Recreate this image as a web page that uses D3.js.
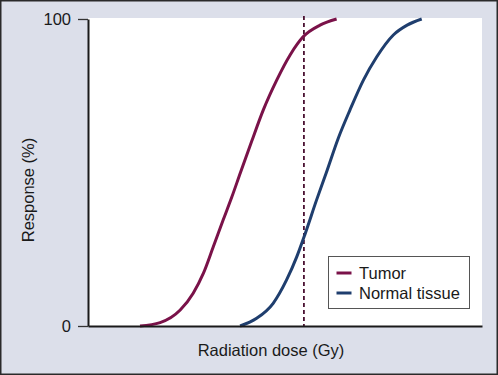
<!DOCTYPE html>
<html>
<head>
<meta charset="utf-8">
<script src="https://cdn.jsdelivr.net/npm/d3@7"></script>
<style>
  body { margin: 0; background: #fff; }
  svg { display: block; font-family: "Liberation Sans", Arial, sans-serif; }
</style>
</head>
<body>
<div id="chart-area"></div>
<script>
// values (dose in arbitrary units, response in %)
const tumorDose = [13.2, 18.3, 23.4, 26.7, 29.3, 31.8, 34.3, 36.5, 38.7, 41.5, 44.5, 47.9, 51.3, 54.6, 58.9, 63.1]
const tumorResp = [0, 1.1, 5.2, 10.7, 17.2, 25.8, 34.5, 42.0, 50.0, 60.0, 70.4, 80.1, 88.3, 94.2, 98.0, 100]
const normalDose = [38.6, 42.8, 47.0, 50.4, 53.0, 55.1, 58.0, 60.5, 63.5, 66.5, 69.9, 73.3, 77.5, 81.0, 84.7]
const normalResp = [0, 2.5, 7.4, 15.0, 22.6, 30.0, 41.0, 50.0, 61.1, 70.4, 80.1, 87.7, 94.8, 98.0, 100]
const yTicks = [0, 100]
const doseMark = 54.8
const seriesNames = ["Tumor", "Normal tissue"]
const seriesColors = ["#7a1249", "#1f3e6e"]

const W = 498, H = 375
const PLOT = { LEFT: 88, RIGHT: 482, TOP: 19, BOTTOM: 326 }

const svg = d3.select("#chart-area").append("svg")
  .attr("width", W)
  .attr("height", H)

// background + frame
svg.append("rect")
  .attr("x", 0.75).attr("y", 0.75)
  .attr("width", W - 1.5).attr("height", H - 1.5)
  .attr("fill", "#dcdfea")
  .attr("stroke", "#2a2a2a")
  .attr("stroke-width", 1.5)

svg.append("rect")
  .attr("x", PLOT.LEFT).attr("y", PLOT.TOP - 1)
  .attr("width", PLOT.RIGHT - PLOT.LEFT)
  .attr("height", PLOT.BOTTOM - PLOT.TOP + 1)
  .attr("fill", "#fff")

const x = d3.scaleLinear().domain([0, 100]).range([PLOT.LEFT, PLOT.RIGHT])
const y = d3.scaleLinear().domain([0, 100]).range([PLOT.BOTTOM, PLOT.TOP])

// dashed dose marker
svg.append("line")
  .attr("x1", x(doseMark)).attr("x2", x(doseMark))
  .attr("y1", PLOT.TOP - 3).attr("y2", PLOT.BOTTOM)
  .attr("stroke", "#4a1232")
  .attr("stroke-width", 1.8)
  .attr("stroke-dasharray", "4,3")

// curves
const line = d3.line()
  .x(d => x(d[0]))
  .y(d => y(d[1]))
  .curve(d3.curveMonotoneX)

const series = [
  d3.zip(tumorDose, tumorResp),
  d3.zip(normalDose, normalResp)
]

svg.selectAll("path.curve")
  .data(series)
  .enter().append("path")
    .attr("class", "curve")
    .attr("d", line)
    .attr("fill", "none")
    .attr("stroke", (d, i) => seriesColors[i])
    .attr("stroke-width", 3)

// axes
const yAxisCall = d3.axisLeft(y)
  .tickValues(yTicks)
  .tickSize(10)
  .tickSizeOuter(0)
  .tickPadding(7)
const yAxisGroup = svg.append("g")
  .attr("transform", `translate(${PLOT.LEFT}, 0)`)
  .call(yAxisCall)
yAxisGroup.select(".domain").attr("stroke", "#1a1a1a").attr("stroke-width", 2)
yAxisGroup.selectAll(".tick line").attr("stroke", "#333").attr("stroke-width", 1.3)
yAxisGroup.selectAll(".tick text")
  .attr("font-size", "16.5px")
  .attr("font-family", "Liberation Sans, Arial, sans-serif")
  .attr("fill", "#1a1a1a")

const xAxisCall = d3.axisBottom(x).tickValues([]).tickSizeOuter(0)
const xAxisGroup = svg.append("g")
  .attr("transform", `translate(0, ${PLOT.BOTTOM})`)
  .call(xAxisCall)
xAxisGroup.select(".domain").attr("stroke", "#1a1a1a").attr("stroke-width", 2)

// axis labels
svg.append("text")
  .attr("x", 271)
  .attr("y", 356)
  .attr("text-anchor", "middle")
  .attr("font-size", "16.5px")
  .attr("fill", "#1a1a1a")
  .text("Radiation dose (Gy)")

svg.append("text")
  .attr("transform", "translate(33.5, 190) rotate(-90)")
  .attr("text-anchor", "middle")
  .attr("font-size", "16.5px")
  .attr("fill", "#1a1a1a")
  .text("Response (%)")

// legend
const legend = svg.append("g").attr("transform", "translate(328.5, 256.5)")
legend.append("rect")
  .attr("width", 141).attr("height", 52)
  .attr("fill", "#fff")
  .attr("stroke", "#555")
  .attr("stroke-width", 1)

const items = legend.selectAll("g.item")
  .data(seriesNames)
  .enter().append("g")
    .attr("class", "item")
    .attr("transform", (d, i) => `translate(0, ${16.5 + i * 20})`)
items.append("line")
  .attr("x1", 8).attr("x2", 23)
  .attr("stroke", (d, i) => seriesColors[i])
  .attr("stroke-width", 3)
items.append("text")
  .attr("x", 30.5)
  .attr("y", 6)
  .attr("font-size", "16.5px")
  .attr("fill", "#1a1a1a")
  .text(d => d)
</script>
</body>
</html>
